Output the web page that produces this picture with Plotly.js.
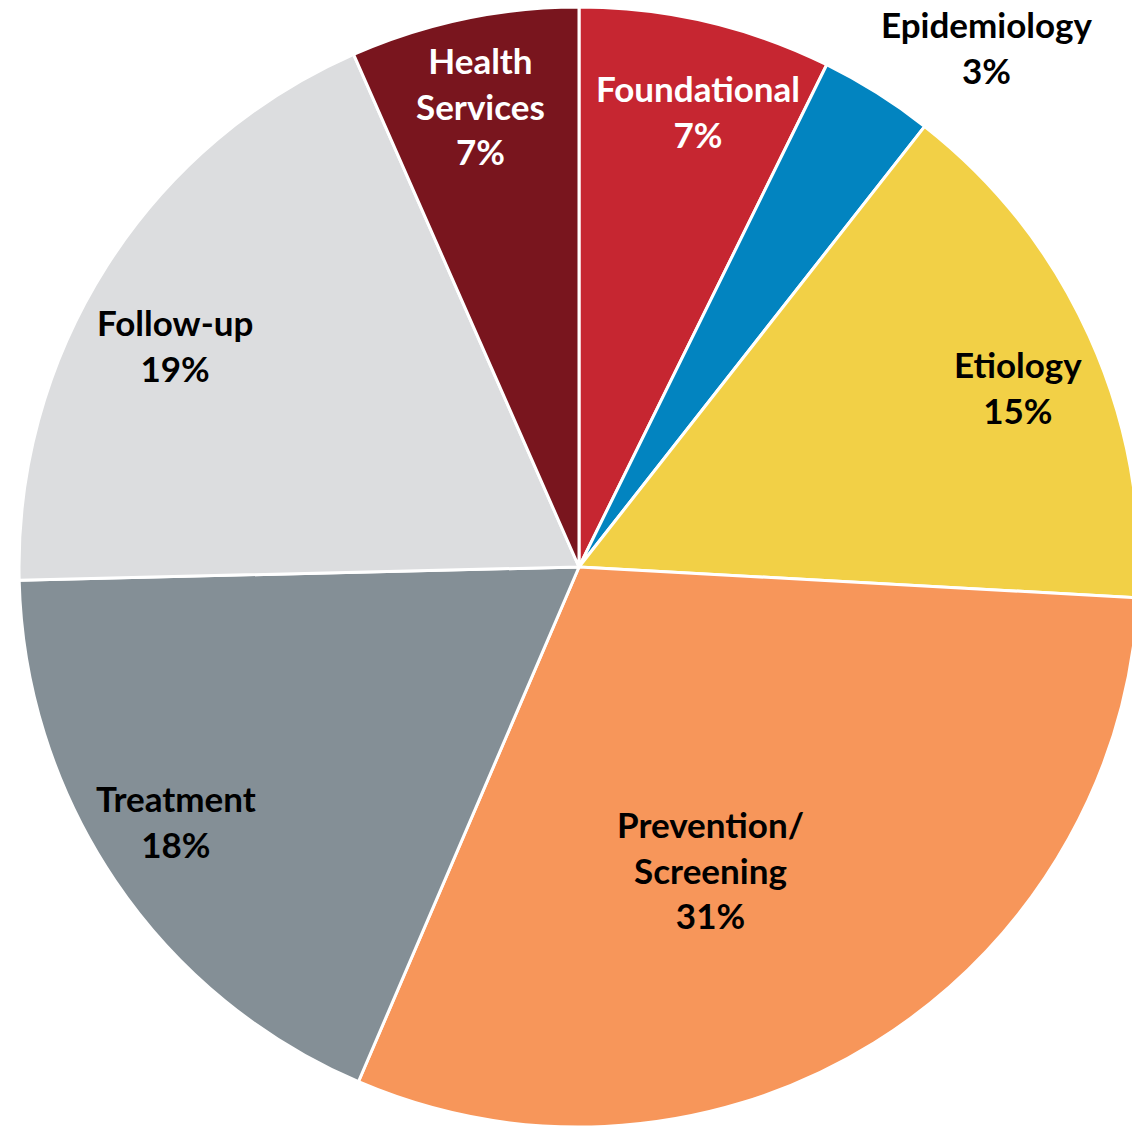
<!DOCTYPE html>
<html>
<head>
<meta charset="utf-8">
<script src="https://cdn.plot.ly/plotly-3.0.1.min.js"></script>
<style>
html, body { margin: 0; padding: 0; overflow: hidden; background: #ffffff; }
#chart { width: 1140px; height: 1128px; }
</style>
</head>
<body>
<div id="chart"></div>
<script>
const categories = ["Foundational", "Epidemiology", "Etiology", "Prevention/<br>Screening", "Treatment", "Follow-up", "Health<br>Services"];
const shares = [7.3, 3.3, 15.3, 30.6, 18.2, 18.8, 6.6];
const sliceColors = ["#C62631", "#0284C0", "#F2D046", "#F7965A", "#848F96", "#DCDDDF", "#79151E"];
const labelColors = ["#ffffff", "#000000", "#000000", "#000000", "#000000", "#000000", "#ffffff"];
// label centres in pixels (x from left, y from top)
const labelPos = [[698, 111], [987, 47], [1018, 387], [710, 869], [176, 821], [175, 345], [480, 105]];

const W = 1140, H = 1128;
const total = shares.reduce((a, b) => a + b, 0);

const trace = {
  type: "pie",
  labels: categories,
  values: shares,
  sort: false,
  direction: "clockwise",
  rotation: 0,
  marker: { colors: sliceColors, line: { color: "#ffffff", width: 3 } },
  textinfo: "none",
  hoverinfo: "label+percent",
  showlegend: false,
  domain: { x: [19 / W, 1139 / W], y: [1 / H, 1121 / H] }
};

const annotations = categories.map((c, i) => ({
  xref: "paper", yref: "paper",
  x: labelPos[i][0] / W, y: 1 - labelPos[i][1] / H,
  xanchor: "center", yanchor: "middle",
  showarrow: false,
  align: "center",
  text: c + "<br>" + Math.round(shares[i] / total * 100) + "%",
  font: { family: "Lato, 'Open Sans', sans-serif", size: 35, color: labelColors[i], weight: "bold" }
}));

Plotly.newPlot("chart", [trace], {
  width: W, height: H,
  margin: { l: 0, r: 0, t: 0, b: 0 },
  paper_bgcolor: "#ffffff",
  annotations: annotations
}, { displayModeBar: false, staticPlot: true });
</script>
</body>
</html>
